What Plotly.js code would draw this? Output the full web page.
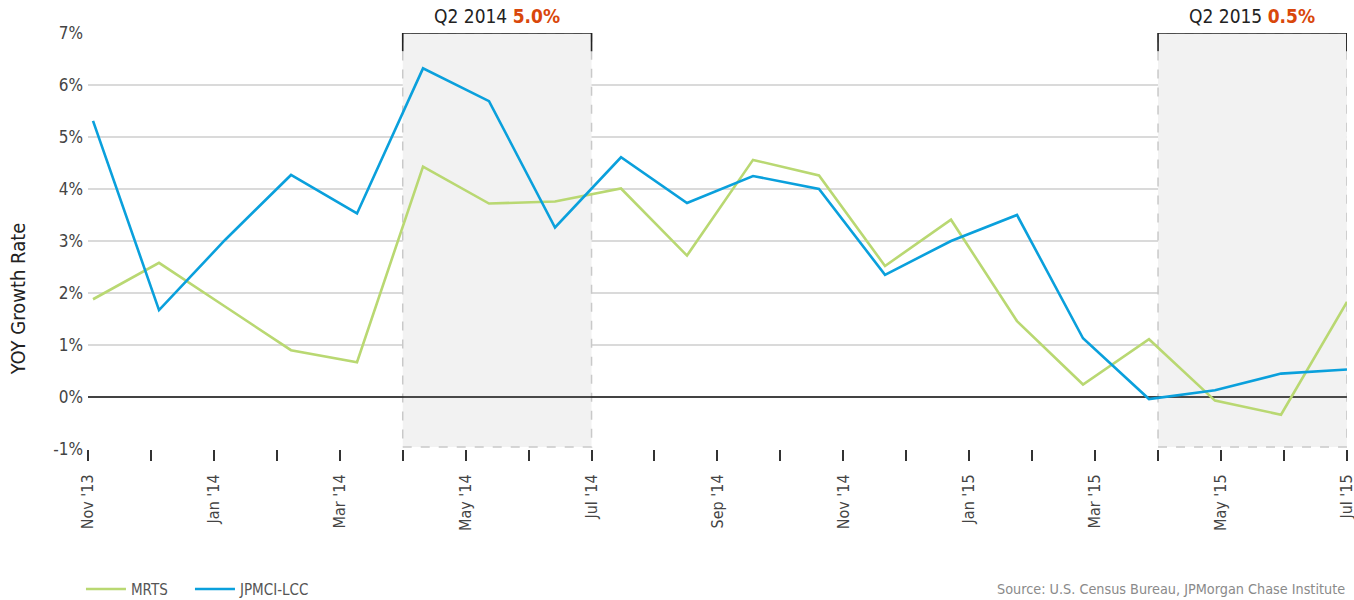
<!DOCTYPE html>
<html>
<head>
<meta charset="utf-8">
<script src="https://cdn.plot.ly/plotly-3.0.1.min.js"></script>
<style>
  html, body { margin: 0; padding: 0; background: #fff; }
  #chart { width: 1354px; height: 600px; }
</style>
</head>
<body>
<div id="chart"></div>
<script>
// ---- Data ----
var monthLabels = ["Nov '13", "Dec '13", "Jan '14", "Feb '14", "Mar '14", "Apr '14", "May '14", "Jun '14",
                   "Jul '14", "Aug '14", "Sep '14", "Oct '14", "Nov '14", "Dec '14", "Jan '15", "Feb '15",
                   "Mar '15", "Apr '15", "May '15", "Jun '15", "Jul '15"];
var labeledMonths = ["Nov '13", "Jan '14", "Mar '14", "May '14", "Jul '14", "Sep '14", "Nov '14",
                     "Jan '15", "Mar '15", "May '15", "Jul '15"];
var periods = [0, 1, 2, 3, 4, 5, 6, 7, 8, 9, 10, 11, 12, 13, 14, 15, 16, 17, 18, 19];
var mrts  = [1.88, 2.58, 1.74, 0.90, 0.67, 4.43, 3.72, 3.76, 4.01, 2.72, 4.56, 4.26, 2.52, 3.41, 1.46, 0.24, 1.11, -0.07, -0.34, 1.83];
var jpmci = [5.31, 1.67, 3.02, 4.27, 3.53, 6.32, 5.69, 3.26, 4.61, 3.73, 4.25, 4.00, 2.35, 3.00, 3.50, 1.13, -0.04, 0.13, 0.45, 0.53];
var quarterNames  = ["Q2 2014", "Q2 2015"];
var quarterValues = ["5.0%", "0.5%"];
var quarterStart  = ["Apr '14", "Apr '15"];
var quarterEnd    = ["Jul '14", "Jul '15"];
var yTicks = [-1, 0, 1, 2, 3, 4, 5, 6, 7];

// ---- Styles ----
var FONT = "'Liberation Sans Narrow', 'DejaVu Sans Condensed', 'Liberation Sans', sans-serif";
var GREEN = '#b9d872';
var BLUE = '#0aa0dc';
var ORANGE = '#d9470b';

var monthIdx = monthLabels.map(function (m, i) { return i; });
var tickText = monthLabels.map(function (m) { return labeledMonths.indexOf(m) >= 0 ? m : ''; });
var firstMonth = monthIdx[0], lastMonth = monthIdx[monthIdx.length - 1];

var traces = [
  // month axis carrier (no visible marks) on the primary x axis
  { x: [firstMonth, lastMonth], y: [null, null], xaxis: 'x', yaxis: 'y',
    type: 'scatter', mode: 'lines', showlegend: false, hoverinfo: 'skip' },
  { x: periods, y: mrts, name: 'MRTS', type: 'scatter', mode: 'lines', legend: 'legend',
    line: { color: GREEN, width: 2.6 }, xaxis: 'x2', yaxis: 'y', hoverinfo: 'x+y' },
  { x: periods, y: jpmci, name: 'JPMCI-LCC', type: 'scatter', mode: 'lines', legend: 'legend2',
    line: { color: BLUE, width: 2.6 }, xaxis: 'x2', yaxis: 'y', hoverinfo: 'x+y' }
];

var shapes = [];
var annotations = [];
var yMin = yTicks[0], yMax = yTicks[yTicks.length - 1];
for (var q = 0; q < quarterNames.length; q++) {
  var a = monthLabels.indexOf(quarterStart[q]);
  var b = monthLabels.indexOf(quarterEnd[q]);
  shapes.push({ type: 'rect', xref: 'x', yref: 'y', x0: a, x1: b, y0: yMin + 0.04, y1: yMax,
    fillcolor: '#f2f2f2', line: { color: '#c9c9c9', width: 1.5, dash: 'dash' }, layer: 'between' });
  shapes.push({ type: 'path', xref: 'x', yref: 'y',
    path: 'M ' + a + ',' + (yMax - 0.35) + ' L ' + a + ',' + yMax + ' L ' + b + ',' + yMax + ' L ' + b + ',' + (yMax - 0.35),
    line: { color: '#222', width: 1.6 }, layer: 'above' });
  annotations.push({ xref: 'x', yref: 'paper', x: (a + b) / 2, y: 1, yanchor: 'bottom', yshift: 4,
    showarrow: false,
    text: quarterNames[q] + ' <b><span style="color:' + ORANGE + '">' + quarterValues[q] + '</span></b>',
    font: { family: FONT, size: 19, color: '#222' } });
}
// zero line drawn above the shaded quarters, below the data lines
shapes.push({ type: 'line', xref: 'x', yref: 'y', x0: firstMonth, x1: lastMonth, y0: 0, y1: 0,
  line: { color: '#111', width: 1.5 }, layer: 'between' });

annotations.push({ xref: 'paper', yref: 'paper', x: -0.0555, xanchor: 'center', y: 0.36, yanchor: 'middle',
  showarrow: false, textangle: -90,
  text: 'YOY Growth Rate', font: { family: FONT, size: 20, color: '#222' } });
annotations.push({ xref: 'paper', yref: 'paper', x: 1, xanchor: 'right', y: -0.337, yanchor: 'middle',
  showarrow: false, text: 'Source: U.S. Census Bureau, JPMorgan Chase Institute',
  font: { family: FONT, size: 14.3, color: '#8a8a8a' } });

var legendStyle = function (xPos) {
  return { orientation: 'h', xref: 'container', yref: 'container', x: xPos, xanchor: 'left',
    y: 0.018, yanchor: 'middle', itemwidth: 40,
    font: { family: FONT, size: 15, color: '#555' }, bgcolor: 'rgba(0,0,0,0)' };
};

var layout = {
  width: 1354, height: 600,
  margin: { l: 88, r: 7, t: 33, b: 151, autoexpand: false },
  paper_bgcolor: '#fff', plot_bgcolor: '#fff',
  font: { family: FONT, color: '#444' },
  showlegend: true,
  legend: legendStyle(0.0598),
  legend2: legendStyle(0.1403),
  xaxis: { range: [firstMonth, lastMonth + 0.002], tickmode: 'array',
    tickvals: monthIdx, ticktext: tickText, tickangle: -90, ticks: 'outside', ticklen: 11,
    tickwidth: 2, tickcolor: '#333', showgrid: false, zeroline: false, showline: false,
    ticklabelstandoff: 7, ticklabeloverflow: 'allow',
    tickfont: { family: FONT, size: 16, color: '#444' }, fixedrange: true },
  xaxis2: { overlaying: 'x', side: 'bottom', range: [-0.076, 19.0], showgrid: false, zeroline: false,
    showticklabels: false, ticks: '', showline: false, fixedrange: true },
  yaxis: { range: [yMin, yMax], tickmode: 'array', tickvals: yTicks,
    ticktext: yTicks.map(function (v) { return v + '%'; }),
    showgrid: true, gridcolor: '#dadada', gridwidth: 1.5,
    zeroline: false,
    ticks: '', ticklabelstandoff: 4, showline: false,
    tickfont: { family: FONT, size: 17, color: '#444' }, fixedrange: true },
  shapes: shapes,
  annotations: annotations
};

Plotly.newPlot('chart', traces, layout, { displayModeBar: false, staticPlot: true });
</script>
</body>
</html>
